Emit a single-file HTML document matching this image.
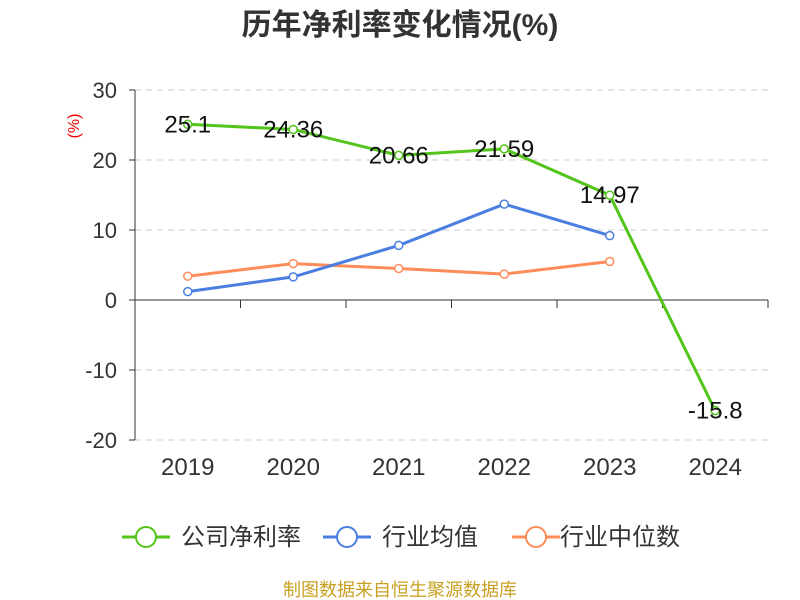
<!DOCTYPE html>
<html><head><meta charset="utf-8"><style>
body{margin:0;background:#fff;}
svg{display:block;font-family:"Liberation Sans","Noto Sans CJK SC",sans-serif;}
</style></head><body>
<svg id="chart" width="800" height="600" viewBox="0 0 800 600">
<text x="400" y="35" text-anchor="middle" font-size="30" font-weight="bold" fill="#333">历年净利率变化情况(%)</text>
<text x="0" y="0" transform="translate(79,126) rotate(-90)" text-anchor="middle" font-size="16" fill="#e00">(%)</text>
<g id="grid"></g><g id="axes"></g><g id="series"></g>
<g font-size="24" fill="#333">
<g><line x1="122" y1="537" x2="170" y2="537" stroke="#52c41a" stroke-width="3"/><circle cx="146" cy="537" r="10" fill="#fff" stroke="#52c41a" stroke-width="2"/><text x="181" y="545">公司净利率</text></g>
<g><line x1="323" y1="537" x2="371" y2="537" stroke="#4a7ee0" stroke-width="3"/><circle cx="347" cy="537" r="10" fill="#fff" stroke="#4a7ee0" stroke-width="2"/><text x="382" y="545">行业均值</text></g>
<g><line x1="512" y1="537" x2="560" y2="537" stroke="#ff8c5a" stroke-width="3"/><circle cx="536" cy="537" r="10" fill="#fff" stroke="#ff8c5a" stroke-width="2"/><text x="560" y="545">行业中位数</text></g>
</g>
<text x="400" y="596" text-anchor="middle" font-size="18" fill="#c8a020">制图数据来自恒生聚源数据库</text>
</svg>
<script>
const categories=["2019","2020","2021","2022","2023","2024"];
const companyValues=[25.1,24.36,20.66,21.59,14.97,-15.8];
const companyLabels=["25.1","24.36","20.66","21.59","14.97","-15.8"];
const industryAvg=[1.2,3.3,7.8,13.7,9.2];
const industryMedian=[3.4,5.2,4.5,3.7,5.5];
const yTicks=[30,20,10,0,-10,-20];
const NS="http://www.w3.org/2000/svg";
const x0=135,x1=768,bw=(x1-x0)/categories.length;
const xs=i=>x0+bw*(i+0.5);
const ys=v=>300-v*7;
function mk(tag,attrs,parent){const e=document.createElementNS(NS,tag);for(const k in attrs)e.setAttribute(k,attrs[k]);parent.appendChild(e);return e;}
const grid=document.getElementById('grid'),axes=document.getElementById('axes'),ser=document.getElementById('series');
yTicks.forEach(t=>{
 if(t!==0){const l=mk('line',{x1:x0,x2:x1,y1:ys(t),y2:ys(t),stroke:'#ccc','stroke-dasharray':'6,5'},grid);
 
 }
 const tx=mk('text',{x:117,y:ys(t)+8,'text-anchor':'end','font-size':22,fill:'#333'},axes);tx.textContent=t;
 
 
 mk('line',{x1:x0-6,x2:x0,y1:ys(t),y2:ys(t),stroke:'#333'},axes);
});
mk('line',{x1:x0,x2:x0,y1:ys(30),y2:ys(-20),stroke:'#333'},axes);
const xa=mk('line',{x1:x0,x2:x1,y1:ys(0),y2:ys(0),stroke:'#333'},axes);


for(let i=0;i<=categories.length;i++)mk('line',{x1:x0+bw*i,x2:x0+bw*i,y1:ys(0),y2:ys(0)+8,stroke:'#333'},axes);
categories.forEach((c,i)=>{const t=mk('text',{x:xs(i),y:475,'text-anchor':'middle','font-size':24,fill:'#333'},axes);t.textContent=c;
 
 });
function series(vals,color,name){
 const p=mk('polyline',{points:vals.map((v,i)=>xs(i)+','+ys(v)).join(' '),fill:'none',stroke:color,'stroke-width':3},ser);
 
 
 vals.forEach((v,i)=>{const c=mk('circle',{cx:xs(i),cy:ys(v),r:4,fill:'#fff',stroke:color,'stroke-width':1.5},ser);
 
 });
}
series(industryMedian,'#ff8c5a','industry-median');
series(industryAvg,'#4a7ee0','industry-avg');
series(companyValues,'#52c41a','company');
companyValues.forEach((v,i)=>{const t=mk('text',{x:xs(i),y:ys(v)+8,'text-anchor':'middle','font-size':24,fill:'#111'},ser);t.textContent=companyLabels[i];
 
 });
</script>
</body></html>
